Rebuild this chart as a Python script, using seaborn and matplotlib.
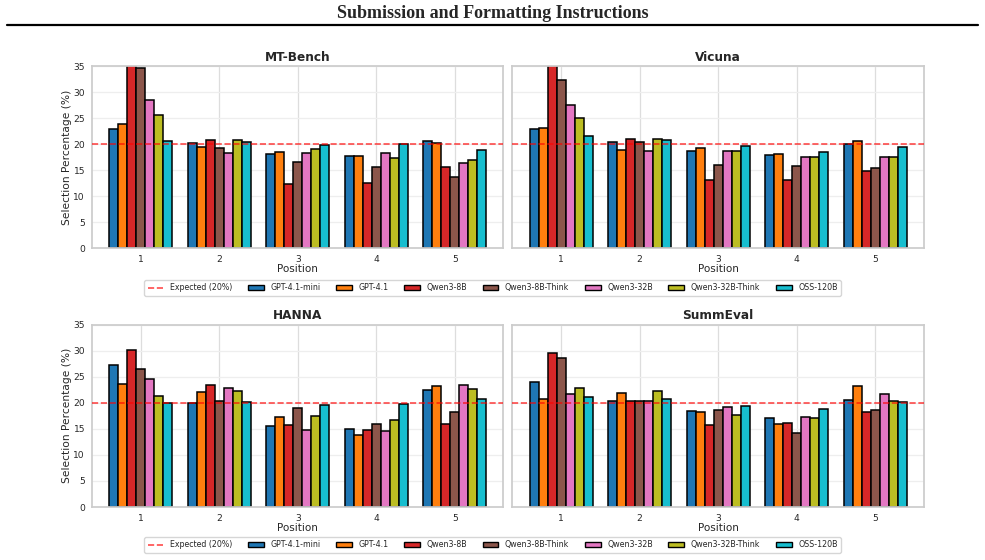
import pandas as pd
import matplotlib.pyplot as plt
import seaborn as sns
from matplotlib.lines import Line2D
from matplotlib.patches import Patch

positions = ["1", "2", "3", "4", "5"]
models = ["GPT-4.1-mini", "GPT-4.1", "Qwen3-8B", "Qwen3-8B-Think",
          "Qwen3-32B", "Qwen3-32B-Think", "OSS-120B"]
colors = ["tab:blue", "tab:orange", "tab:red", "tab:brown",
          "tab:pink", "tab:olive", "tab:cyan"]

# selection percentage per model, one value per position 1..5
mt_bench = {
    "GPT-4.1-mini": [23.0, 20.3, 18.2, 17.7, 20.7],
    "GPT-4.1": [23.9, 19.5, 18.6, 17.8, 20.3],
    "Qwen3-8B": [38.0, 20.8, 12.3, 12.5, 15.6],
    "Qwen3-8B-Think": [34.7, 19.3, 16.6, 15.7, 13.8],
    "Qwen3-32B": [28.4, 18.3, 18.4, 18.3, 16.4],
    "Qwen3-32B-Think": [25.7, 20.9, 19.0, 17.4, 16.9],
    "OSS-120B": [20.6, 20.5, 19.9, 20.1, 18.9],
}
vicuna = {
    "GPT-4.1-mini": [22.9, 20.5, 18.7, 18.0, 20.0],
    "GPT-4.1": [23.2, 18.9, 19.3, 18.1, 20.7],
    "Qwen3-8B": [36.5, 21.1, 13.1, 13.2, 14.8],
    "Qwen3-8B-Think": [32.4, 20.4, 16.1, 15.8, 15.5],
    "Qwen3-32B": [27.6, 18.7, 18.7, 17.5, 17.6],
    "Qwen3-32B-Think": [25.1, 21.0, 18.7, 17.6, 17.6],
    "OSS-120B": [21.6, 20.9, 19.6, 18.6, 19.5],
}
hanna = {
    "GPT-4.1-mini": [27.3, 19.9, 15.6, 14.9, 22.5],
    "GPT-4.1": [23.7, 22.0, 17.3, 13.9, 23.2],
    "Qwen3-8B": [30.1, 23.5, 15.7, 14.7, 16.0],
    "Qwen3-8B-Think": [26.5, 20.3, 19.0, 16.0, 18.3],
    "Qwen3-32B": [24.5, 22.9, 14.8, 14.6, 23.4],
    "Qwen3-32B-Think": [21.3, 22.2, 17.4, 16.7, 22.6],
    "OSS-120B": [19.9, 20.1, 19.5, 19.8, 20.7],
}
summeval = {
    "GPT-4.1-mini": [23.9, 20.4, 18.4, 17.0, 20.6],
    "GPT-4.1": [20.7, 21.9, 18.2, 16.0, 23.3],
    "Qwen3-8B": [29.6, 20.4, 15.8, 16.1, 18.3],
    "Qwen3-8B-Think": [28.6, 20.3, 18.6, 14.2, 18.6],
    "Qwen3-32B": [21.6, 20.4, 19.2, 17.3, 21.6],
    "Qwen3-32B-Think": [22.9, 22.3, 17.6, 17.1, 20.3],
    "OSS-120B": [21.2, 20.8, 19.4, 18.8, 20.1],
}
datasets = [("MT-Bench", mt_bench), ("Vicuna", vicuna),
            ("HANNA", hanna), ("SummEval", summeval)]
expected = 20


def to_long(data):
    rows = []
    for m in models:
        for p, v in zip(positions, data[m]):
            rows.append({"Position": p, "Model": m, "pct": v})
    return pd.DataFrame(rows)


sns.set_theme(style="whitegrid")

fig, axes = plt.subplots(2, 2, figsize=(9.85, 5.6), sharey="row")
fig.subplots_adjust(left=0.0934, right=0.938, top=0.882, bottom=0.0946,
                    hspace=0.418, wspace=0.022)

for ax, (name, data) in zip(axes.flat, datasets):
    df = to_long(data)
    sns.barplot(data=df, x="Position", y="pct", hue="Model",
                hue_order=models, palette=colors, saturation=1,
                edgecolor="black", linewidth=1.1, width=0.8, ax=ax, zorder=2)
    ax.axhline(expected, color="red", linestyle="--", linewidth=1.2,
               alpha=0.7, zorder=3)
    ax.get_legend().remove()
    ax.set_ylim(0, 35)
    ax.set_xlim(-0.62, 4.62)
    ax.set_yticks(range(0, 36, 5))
    ax.set_title(name, fontsize=8.7, fontweight="bold", pad=4)
    ax.set_xlabel("Position", fontsize=7.5, labelpad=0)
    ax.tick_params(labelsize=6.6, length=0, pad=5)
    ax.grid(True, color="#dddddd", linewidth=0.9)
    ax.grid(True, axis="y", color="#eeeeee")
    ax.set_axisbelow(True)

for ax in axes[:, 0]:
    ax.set_ylabel("Selection Percentage (%)", fontsize=7.7, labelpad=1)
for ax in axes[:, 1]:
    ax.set_ylabel("")
    ax.tick_params(axis="y", left=False, labelleft=False)

handles = [Line2D([0], [0], color="red", linestyle="--", linewidth=1.2,
                  alpha=0.7)]
handles += [Patch(facecolor=c, edgecolor="black") for c in colors]
labels = ["Expected (20%)"] + models
for yy in (0.486, 0.027):
    fig.legend(handles, labels, loc="center", bbox_to_anchor=(0.5, yy),
               ncol=8, fontsize=5.7, frameon=True, handlelength=2.0,
               handletextpad=0.8, columnspacing=2.0, borderpad=0.4)

fig.text(0.5, 1 - 14 / 560, "Submission and Formatting Instructions",
         ha="center", va="center", fontsize=13, fontweight="bold",
         family="Liberation Serif")
fig.add_artist(Line2D([7 / 985, 978 / 985], [1 - 25 / 560, 1 - 25 / 560],
                      color="black", linewidth=1.6))

fig.savefig("out.png", dpi=100)
